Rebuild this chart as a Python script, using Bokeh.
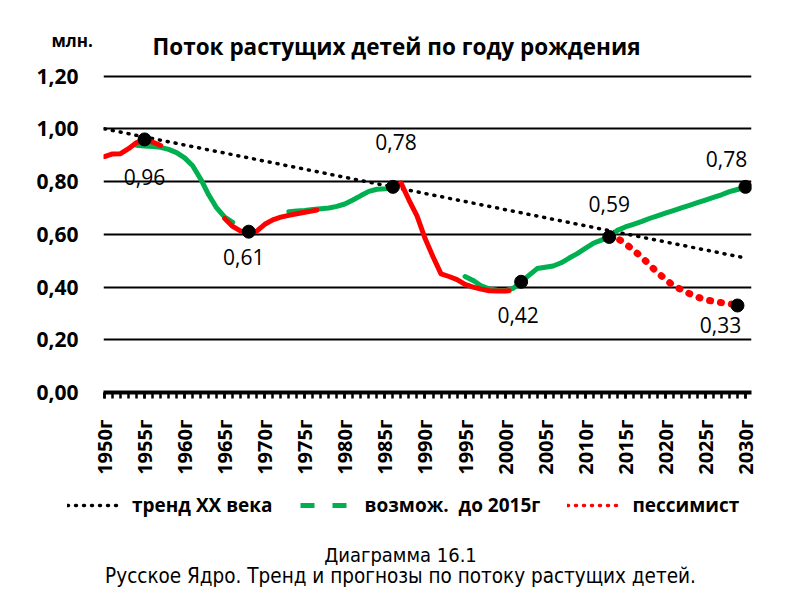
import math
from bokeh.plotting import figure
from bokeh.layouts import column
from bokeh.models import (Range1d, FixedTicker, CustomJSTickFormatter, Label,
                          Legend, LegendItem, ColumnDataSource)
from bokeh.core.properties import value
from bokeh.embed import file_html
from bokeh.resources import INLINE

# ---------------- data ----------------
year_ticks = [1950, 1955, 1960, 1965, 1970, 1975, 1980, 1985, 1990, 1995,
              2000, 2005, 2010, 2015, 2020, 2025, 2030]
tick_labels = ["1950г", "1955г", "1960г", "1965г", "1970г", "1975г", "1980г",
               "1985г", "1990г", "1995г", "2000г", "2005г", "2010г", "2015г",
               "2020г", "2025г", "2030г"]
y_ticks = [0.0, 0.2, 0.4, 0.6, 0.8, 1.0, 1.2]

# actual (red, solid) pieces
red1_years = [1950, 1951, 1952, 1953, 1954, 1955, 1956, 1957]
red1_vals = [0.895, 0.905, 0.906, 0.925, 0.948, 0.957, 0.950, 0.937]
red2_years = [1965, 1966, 1967, 1968, 1969, 1970, 1971, 1972, 1973, 1974, 1975, 1976, 1976.5]
red2_vals = [0.660, 0.630, 0.612, 0.603, 0.612, 0.638, 0.655, 0.665, 0.672, 0.678, 0.684, 0.689, 0.692]
red3_years = [1986, 1987, 1988, 1989, 1990, 1991, 1992, 1993, 1994, 1995, 1996,
              1997, 1998, 1999, 2000, 2000.5]
red3_vals = [0.780, 0.795, 0.730, 0.670, 0.585, 0.515, 0.450, 0.440, 0.428, 0.410,
             0.400, 0.392, 0.386, 0.385, 0.385, 0.386]

# possible (green) pieces
green1_years = [1954, 1955, 1956, 1957, 1958, 1959, 1960, 1961, 1962, 1963, 1964, 1965, 1966]
green1_vals = [0.938, 0.935, 0.933, 0.930, 0.922, 0.910, 0.890, 0.860, 0.810, 0.750,
               0.700, 0.665, 0.645]
green2_years = [1973, 1974, 1975, 1976, 1977, 1978, 1979, 1980, 1981, 1982, 1983,
                1984, 1985, 1986]
green2_vals = [0.686, 0.688, 0.690, 0.694, 0.697, 0.700, 0.706, 0.715, 0.730, 0.747,
               0.763, 0.771, 0.773, 0.776]
green3_years = [1995, 1996, 1997, 1998, 1999, 2000, 2001, 2002, 2003, 2004, 2005,
                2006, 2007, 2008, 2009, 2010, 2011, 2012, 2013, 2014, 2015, 2016,
                2017, 2018, 2019, 2020, 2021, 2022, 2023, 2024, 2025, 2026, 2027,
                2028, 2029, 2030]
green3_vals = [0.440, 0.425, 0.405, 0.393, 0.388, 0.386, 0.395, 0.420, 0.445, 0.470,
               0.475, 0.480, 0.492, 0.510, 0.527, 0.547, 0.566, 0.578, 0.588, 0.615,
               0.628, 0.638, 0.648, 0.660, 0.670, 0.680, 0.690, 0.700, 0.710, 0.720,
               0.730, 0.740, 0.750, 0.762, 0.770, 0.778]

# pessimistic forecast (red dotted)
pess_years = [2013, 2014, 2015, 2016, 2017, 2018, 2019, 2020, 2021, 2022, 2023,
              2024, 2025, 2026, 2027, 2028, 2029]
pess_vals = [0.590, 0.585, 0.565, 0.540, 0.515, 0.485, 0.455, 0.430, 0.405, 0.390,
             0.375, 0.362, 0.352, 0.346, 0.341, 0.337, 0.330]

# 20th century trend
trend_years = [1950, 2030]
trend_vals = [1.00, 0.51]

# marked points
mark_years = [1955, 1968, 1986, 2002, 2013, 2030, 2029]
mark_vals = [0.96, 0.61, 0.78, 0.42, 0.59, 0.78, 0.33]
mark_text = ["0,96", "0,61", "0,78", "0,42", "0,59", "0,78", "0,33"]

title_text = "Поток растущих детей по году рождения"
unit_text = "млн."
legend_labels = ["тренд XX века", "возмож.\u00a0 до 2015г", "пессимист"]
caption1 = "Диаграмма 16.1"
caption2 = "Русское Ядро. Тренд и прогнозы по потоку растущих детей."

# ---------------- styles / layout ----------------
FONT = "Open Sans"
CAP_FONT = "DejaVu Sans Condensed"
RED = "#ff0000"
GREEN = "#00b050"
mark_dx = [0, -5, 3, -3, 0, -19, -17]
mark_dy = [38, 25, -45, 33, -33, -28, 19]

W = 784
TOTAL_H = 592
TOP_H = 62
FRAME_L, FRAME_T, FW, FH = 103, 73, 648, 319
MAIN_BOTTOM = 85
MAIN_H = (FRAME_T - TOP_H) + FH + MAIN_BOTTOM
BOT_TOP = TOP_H + MAIN_H
BOT_H = TOTAL_H - BOT_TOP
NAN = float("nan")


def blank_fig(h, y_top):
    f = figure(width=W, height=h, output_backend="svg", toolbar_location=None,
               x_range=Range1d(0, W), y_range=Range1d(y_top + h, y_top),
               x_axis_type=None, y_axis_type=None, frame_align=False,
               min_border_left=0, min_border_right=0,
               min_border_top=0, min_border_bottom=0)
    f.grid.visible = False
    f.outline_line_color = None
    f.background_fill_color = "white"
    f.border_fill_color = "white"
    return f


# ---- top: title ----
top = blank_fig(TOP_H, 0)
top.add_layout(Label(x=396, y=46, text=title_text, text_align="center",
                     text_baseline="alphabetic", text_font=FONT, text_font_style="bold",
                     text_font_size="22.5px", text_color="black", text_line_height=1.0))
top.add_layout(Label(x=51, y=40, text=unit_text, text_align="left",
                     text_baseline="alphabetic", text_font=FONT, text_font_style="bold",
                     text_font_size="17px", text_color="black"))

# ---- main chart ----
X0, X1 = 1949.875, 2030.75
Y0, Y1 = 0.0, 1.21
p = figure(width=W, height=MAIN_H, output_backend="svg", toolbar_location=None,
           x_range=Range1d(X0, X1), y_range=Range1d(Y0, Y1), frame_align=False,
           min_border_left=FRAME_L, min_border_top=FRAME_T - TOP_H,
           min_border_right=W - FRAME_L - FW, min_border_bottom=MAIN_BOTTOM)
p.outline_line_color = None
p.background_fill_color = "white"
p.border_fill_color = "white"

p.xaxis.ticker = FixedTicker(ticks=year_ticks, minor_ticks=list(range(1950, 2031)))
p.xaxis.major_label_overrides = {y: t for y, t in zip(year_ticks, tick_labels)}
p.xaxis.major_label_orientation = math.pi / 2
p.xaxis.axis_line_width = 4
p.xaxis.axis_line_color = "black"
p.xaxis.major_tick_line_width = 2.5
p.xaxis.minor_tick_line_width = 2.5
p.xaxis.major_tick_line_color = "black"
p.xaxis.minor_tick_line_color = "black"
p.xaxis.major_tick_out = 6
p.xaxis.minor_tick_out = 6
p.xaxis.major_tick_in = 0
p.xaxis.minor_tick_in = 0
p.xaxis.major_label_standoff = 21
p.xaxis.major_label_text_font = FONT
p.xaxis.major_label_text_font_style = "bold"
p.xaxis.major_label_text_font_size = "20px"
p.xaxis.major_label_text_color = "black"

p.yaxis.ticker = FixedTicker(ticks=y_ticks)
p.yaxis.formatter = CustomJSTickFormatter(code="return tick.toFixed(2).replace('.', ',');")
p.yaxis.axis_line_color = None
p.yaxis.major_tick_line_color = None
p.yaxis.minor_tick_line_color = None
p.yaxis.major_label_standoff = 19
p.yaxis.major_label_text_font = FONT
p.yaxis.major_label_text_font_style = "bold"
p.yaxis.major_label_text_font_size = "21px"
p.yaxis.major_label_text_color = "black"
p.yaxis.major_label_text_line_height = 1.0

p.xgrid.grid_line_color = None
p.ygrid.ticker = FixedTicker(ticks=y_ticks)
p.ygrid.grid_line_color = "black"
p.ygrid.grid_line_width = 2

p.line(trend_years, trend_vals, line_color="black", line_width=3.5,
       line_dash="1 7", line_cap="round")
for yrs, vals in [(green1_years, green1_vals), (green2_years, green2_vals),
                  (green3_years, green3_vals)]:
    p.line(yrs, vals, line_color=GREEN, line_width=5, line_join="round", line_cap="round")
for yrs, vals in [(red1_years, red1_vals), (red2_years, red2_vals), (red3_years, red3_vals)]:
    p.line(yrs, vals, line_color=RED, line_width=5, line_join="round", line_cap="round")
p.line(pess_years, pess_vals, line_color=RED, line_width=7, line_dash="1 10",
       line_cap="round")

p.scatter(mark_years, mark_vals, size=13, color="black")
src = ColumnDataSource(dict(x=mark_years, y=mark_vals, t=mark_text, dx=mark_dx, dy=mark_dy))
p.text(x="x", y="y", text="t", x_offset="dx", y_offset="dy", source=src,
       text_align="center", text_baseline="middle", text_font=value(FONT),
       text_font_size="21px", text_color="black")

# ---- bottom: legend and caption ----
bot = blank_fig(BOT_H, BOT_TOP)
lg_trend = bot.line([NAN], [NAN], line_color="black", line_width=3.5, line_dash="1 7",
                    line_cap="round")
lg_green = bot.line([NAN], [NAN], line_color=GREEN, line_width=5, line_dash="14 18")
lg_red = bot.line([NAN], [NAN], line_color=RED, line_width=3.5, line_dash="1 7",
                  line_cap="round")
legend = Legend(items=[LegendItem(label=legend_labels[0], renderers=[lg_trend]),
                       LegendItem(label=legend_labels[1], renderers=[lg_green]),
                       LegendItem(label=legend_labels[2], renderers=[lg_red])],
                orientation="horizontal", location=(67, TOTAL_H - 518),
                glyph_width=55, glyph_height=20, label_standoff=10, spacing=27,
                padding=0, margin=0, label_height=20,
                label_text_font=FONT, label_text_font_style="bold",
                label_text_font_size="19px", label_text_color="black",
                background_fill_alpha=0, border_line_alpha=0)
bot.add_layout(legend, "center")
bot.add_layout(Label(x=400, y=554, text=caption1, text_align="center",
                     text_baseline="alphabetic", text_font=CAP_FONT,
                     text_font_size="20px", text_color="black"))
bot.add_layout(Label(x=400, y=575, text=caption2, text_align="center",
                     text_baseline="alphabetic", text_font=CAP_FONT,
                     text_font_size="20.5px", text_color="black"))

layout = column(top, p, bot, spacing=0)
open("out.html", "w").write(file_html(layout, INLINE))
